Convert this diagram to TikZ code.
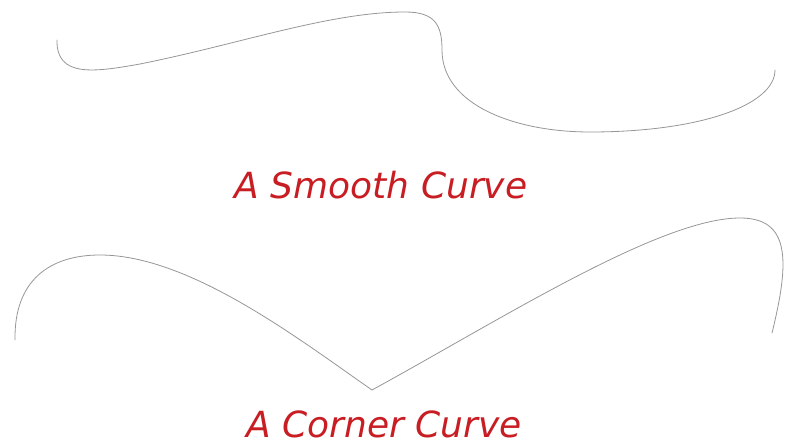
\documentclass[tikz,border=0pt]{standalone}
\usepackage{fontspec}
\setmainfont{DejaVu Sans}
\usepackage{xcolor}
\usepackage{tikz}

\begin{document}
\begin{tikzpicture}[
  x=0.75pt, y=-0.75pt,
  cCurve/.style={line width=0.6pt, line cap=round,
    color={rgb,255:red,150;green,150;blue,150}},
  cLabel/.style={anchor=base, inner sep=0pt,
    text={rgb,255:red,200;green,30;blue,35},
    font=\fontsize{27}{32}\selectfont\itshape},
]
  \useasboundingbox (0,0) rectangle (787,445);

  %% ── Smooth curve ────────────────────────────────────────────
  \draw[cCurve] (57,40) .. controls (56,78) and (95,72) .. (140,64)
    .. controls (240,44) and (330,12) .. (405,12)
    .. controls (435,12) and (442,25) .. (442,50)
    .. controls (442,105) and (515,132) .. (590,132)
    .. controls (700,132) and (775,105) .. (775,70);

  \node[cLabel] (smooth) at (381,198) {A Smooth Curve};

  %% ── Corner curve ────────────────────────────────────────────
  \draw[cCurve] (15,340) .. controls (14,280) and (50,255) .. (100,255)
    .. controls (190,255) and (300,340) .. (372,390)
    .. controls (500,320) and (660,218) .. (740,218)
    .. controls (790,218) and (790,260) .. (772,333);

  \node[cLabel] (corner) at (384,437) {A Corner Curve};

\end{tikzpicture}
\end{document}
